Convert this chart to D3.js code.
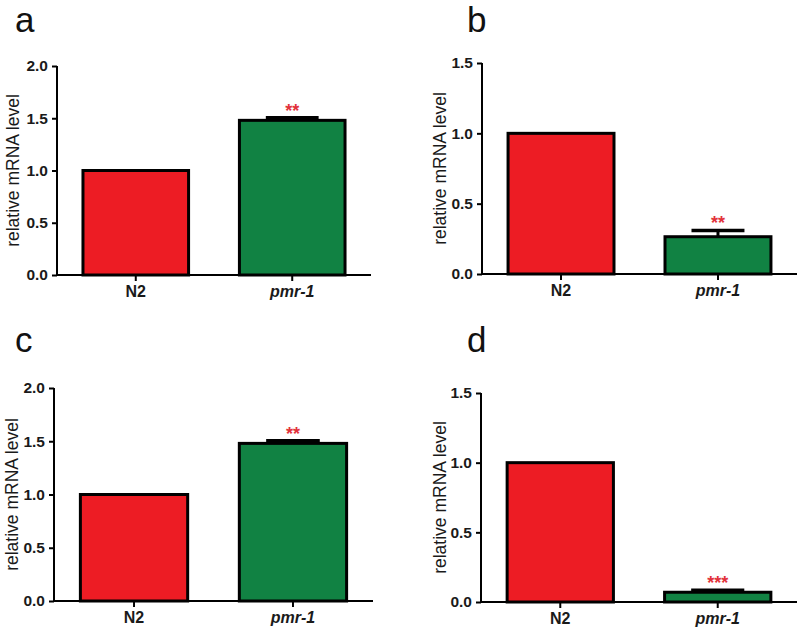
<!DOCTYPE html>
<html>
<head>
<meta charset="utf-8">
<script src="https://cdn.jsdelivr.net/npm/d3@7"></script>
<style>
  body { margin: 0; background: #fff; }
  svg { display: block; font-family: Arial, "Liberation Sans", sans-serif; }
</style>
</head>
<body>
<svg id="chart" width="800" height="631"></svg>
<script>
// ---- data ----
const panelLetters = ["a", "b", "c", "d"];
const categories = ["N2", "pmr-1"];
const valuesA = [1.0, 1.48];
const errorsA = [0, 0.025];
const valuesB = [1.0, 0.265];
const errorsB = [0, 0.045];
const valuesC = [1.0, 1.48];
const errorsC = [0, 0.025];
const valuesD = [1.0, 0.07];
const errorsD = [0, 0.015];
const yMaxes = [2.0, 1.5, 2.0, 1.5];
const ticksTo2 = [0.0, 0.5, 1.0, 1.5, 2.0];
const ticksTo15 = [0.0, 0.5, 1.0, 1.5];
const significance = ["**", "**", "**", "***"];
const yLabel = "relative mRNA level";

// ---- layout ----
const layouts = [
  { left: 57, right: 371, top: 66, bottom: 275, letterX: 15, letterY: 32, labelX: 13 },
  { left: 482, right: 797, top: 63, bottom: 274, letterX: 467, letterY: 32, labelX: 440 },
  { left: 54, right: 373, top: 388, bottom: 601, letterX: 15, letterY: 352, labelX: 12 },
  { left: 481, right: 797, top: 393, bottom: 602, letterX: 467, letterY: 352, labelX: 440 }
];
const panelValues = [valuesA, valuesB, valuesC, valuesD];
const panelErrors = [errorsA, errorsB, errorsC, errorsD];
const panelTicks = [ticksTo2, ticksTo15, ticksTo2, ticksTo15];
const barColors = ["#ED1C24", "#118243"];

const svg = d3.select("#chart");

panelLetters.forEach((letter, i) => {
  const L = layouts[i];
  const g = svg.append("g");
  const x = d3.scaleBand().domain(categories).range([L.left, L.right])
    .paddingInner(0.325).paddingOuter(0.166);
  const y = d3.scaleLinear().domain([0, yMaxes[i]]).range([L.bottom, L.top]);
  const data = categories.map((c, k) => ({ c, v: panelValues[i][k], e: panelErrors[i][k], k }));

  // error bars (upward only)
  data.filter(d => d.e > 0).forEach(d => {
    const cx = x(d.c) + x.bandwidth() / 2;
    g.append("line").attr("x1", cx).attr("x2", cx)
      .attr("y1", y(d.v)).attr("y2", y(d.v + d.e))
      .attr("stroke", "#000").attr("stroke-width", 3);
    g.append("line").attr("x1", cx - x.bandwidth() / 4).attr("x2", cx + x.bandwidth() / 4)
      .attr("y1", y(d.v + d.e)).attr("y2", y(d.v + d.e))
      .attr("stroke", "#000").attr("stroke-width", 3.5);
  });

  // bars
  g.selectAll("rect.bar").data(data).join("rect")
    .attr("class", "bar")
    .attr("x", d => x(d.c))
    .attr("width", x.bandwidth())
    .attr("y", d => y(d.v))
    .attr("height", d => y(0) - y(d.v))
    .attr("fill", d => barColors[d.k])
    .attr("stroke", "#000")
    .attr("stroke-width", 3);

  // significance stars
  const sig = data[1];
  g.append("text")
    .attr("x", x(sig.c) + x.bandwidth() / 2)
    .attr("y", y(sig.v + sig.e) - 1)
    .attr("text-anchor", "middle")
    .attr("fill", "#E2323A")
    .attr("font-size", 18)
    .attr("font-weight", "bold")
    .text(significance[i]);

  // y axis
  const yAxis = g.append("g").attr("transform", `translate(${L.left},0)`)
    .call(d3.axisLeft(y).tickValues(panelTicks[i]).tickFormat(d3.format(".1f"))
      .tickSize(5).tickPadding(4));
  yAxis.select(".domain").attr("stroke-width", 2).attr("d", `M0,${L.top}V${L.bottom}`);
  yAxis.selectAll(".tick line").attr("stroke-width", 2);
  yAxis.selectAll(".tick text").attr("font-size", 15.5).attr("font-weight", "bold")
    .attr("font-family", "Arial, 'Liberation Sans', sans-serif").attr("fill", "#1a1a1a");

  // x axis
  const xAxis = g.append("g").attr("transform", `translate(0,${L.bottom})`)
    .call(d3.axisBottom(x).tickSize(6).tickPadding(5));
  xAxis.select(".domain").attr("stroke-width", 2).attr("d", `M${L.left},0H${L.right}`);
  xAxis.selectAll(".tick line").attr("stroke-width", 2);
  xAxis.selectAll(".tick text").attr("font-size", 16).attr("font-weight", "bold")
    .attr("font-family", "Arial, 'Liberation Sans', sans-serif").attr("fill", "#1a1a1a")
    .attr("font-style", d => d === "pmr-1" ? "italic" : "normal");

  // y label
  g.append("text")
    .attr("transform", `translate(${L.labelX},${(L.top + L.bottom) / 2}) rotate(-90)`)
    .attr("text-anchor", "middle")
    .attr("dominant-baseline", "central")
    .attr("font-size", 17.5)
    .attr("fill", "#1a1a1a")
    .text(yLabel);

  // panel letter
  g.append("text")
    .attr("x", L.letterX).attr("y", L.letterY)
    .attr("font-size", 35)
    .attr("fill", "#111")
    .text(letter);
});
</script>
</body>
</html>
